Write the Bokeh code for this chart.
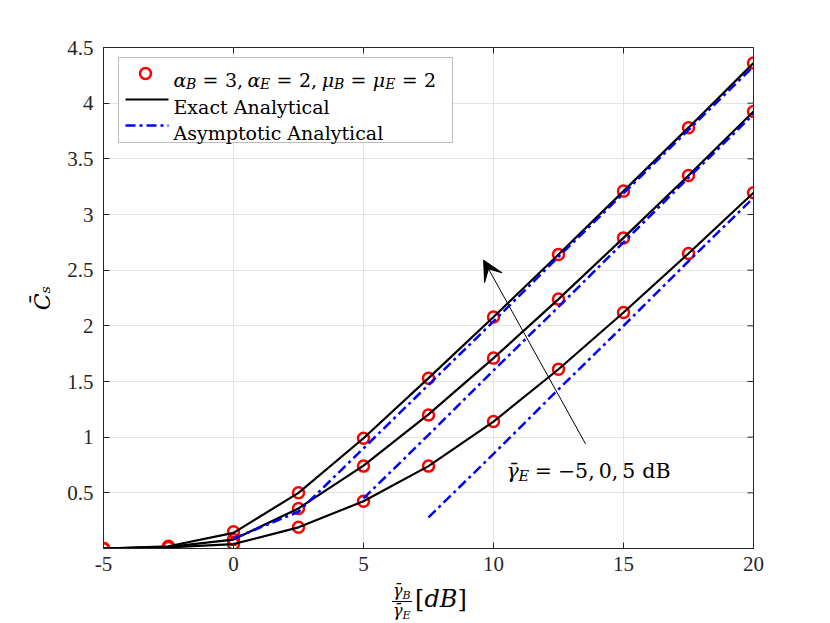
import math
from bokeh.plotting import figure
from bokeh.layouts import column
from bokeh.models import Label, BoxAnnotation, Arrow, VeeHead, FixedTicker, Range1d, Div
from bokeh.embed import file_html
from bokeh.resources import INLINE

# ---------------- data ----------------
snr_db = [-5, -2.5, 0, 2.5, 5, 7.5, 10, 12.5, 15, 17.5, 20]

exact_m5 = [0.0, 0.02, 0.14, 0.50, 0.99, 1.53, 2.08, 2.64, 3.21, 3.78, 4.36]
exact_0 = [0.0, 0.015, 0.08, 0.36, 0.745, 1.205, 1.71, 2.24, 2.79, 3.35, 3.925]
exact_5 = [0.0, 0.01, 0.04, 0.19, 0.425, 0.74, 1.14, 1.61, 2.12, 2.65, 3.195]

sim_m5 = [0.0, 0.02, 0.15, 0.50, 0.99, 1.53, 2.08, 2.64, 3.21, 3.78, 4.36]
sim_0 = [0.0, 0.015, 0.08, 0.36, 0.74, 1.20, 1.71, 2.24, 2.79, 3.35, 3.925]
sim_5 = [0.0, 0.01, 0.04, 0.19, 0.425, 0.74, 1.14, 1.61, 2.12, 2.65, 3.195]

asym_x_m5 = [0, 2.5, 5, 7.5, 10, 12.5, 15, 17.5, 20]
asym_m5 = [0.09, 0.33, 0.90, 1.47, 2.04, 2.62, 3.19, 3.76, 4.33]
asym_x_0 = [5, 7.5, 10, 12.5, 15, 17.5, 20]
asym_0 = [0.45, 1.02, 1.60, 2.17, 2.75, 3.33, 3.90]
asym_x_5 = [7.5, 10, 12.5, 15, 17.5, 20]
asym_5 = [0.28, 0.85, 1.43, 2.00, 2.58, 3.15]

x_ticks = [-5, 0, 5, 10, 15, 20]
x_tick_labels = ["-5", "0", "5", "10", "15", "20"]
y_ticks = [0.5, 1, 1.5, 2, 2.5, 3, 3.5, 4, 4.5]
y_tick_labels = ["0.5", "1", "1.5", "2", "2.5", "3", "3.5", "4", "4.5"]

# ---------------- layout helpers ----------------
X0, X1 = -5, 20
Y0, Y1 = 0, 4.5
W = 822
FL, FR, FT, FB = 103, 753, 47, 548   # frame in page pixels
PH = 582                              # main figure height
TOTAL_H = 622


def d(px, py):
    return (X0 + (px - FL) * (X1 - X0) / (FR - FL),
            Y0 + (FB - py) * (Y1 - Y0) / (FB - FT))


MFONT = "DejaVu Serif"
TFONT = "Liberation Serif"
WID = {'α': 0.66, 'μ': 0.65, 'γ': 0.58, 'B': 0.71, 'E': 0.715, 'C': 0.734,
       's': 0.513, 'd': 0.64, '=': 0.838, '−': 0.838, ',': 0.318, '.': 0.318,
       '[': 0.39, ']': 0.39, '\u0304': 0.0}
for ch in "0123456789":
    WID[ch] = 0.636


def tw(s, size):
    return sum(WID.get(c, 0.6) for c in s) * size


p = figure(width=W, height=PH, x_range=Range1d(X0, X1), y_range=Range1d(Y0, Y1),
           output_backend="svg", toolbar_location=None,
           min_border_left=FL, min_border_right=W - FR,
           min_border_top=FT, min_border_bottom=PH - FB)
p.background_fill_color = "white"
p.border_fill_color = "white"
p.outline_line_color = "#262626"
p.outline_line_width = 1


def style_axis(ax, ticks, labels):
    ax.ticker = FixedTicker(ticks=ticks)
    ax.major_label_overrides = {t: l for t, l in zip(ticks, labels)}
    ax.major_tick_in = 6
    ax.major_tick_out = 0
    ax.minor_tick_in = 0
    ax.minor_tick_out = 0
    ax.axis_line_color = "#262626"
    ax.major_tick_line_color = "#262626"
    ax.major_label_text_font = TFONT
    ax.major_label_text_color = "#262626"
    ax.major_label_text_font_size = "21px"


style_axis(p.xaxis[0], x_ticks, x_tick_labels)
p.xaxis[0].major_label_standoff = 8
style_axis(p.yaxis[0], y_ticks, y_tick_labels)
p.yaxis[0].major_label_standoff = 10
p.yaxis[0].axis_label = "C\u0304\u209B"
p.yaxis[0].axis_label_text_font = MFONT
p.yaxis[0].axis_label_text_font_style = "italic"
p.yaxis[0].axis_label_text_font_size = "22px"
p.yaxis[0].axis_label_text_color = "black"
p.yaxis[0].axis_label_standoff = 9

p.xgrid.ticker = FixedTicker(ticks=x_ticks)
p.ygrid.ticker = FixedTicker(ticks=y_ticks)
p.xgrid.grid_line_color = "#e3e3e3"
p.ygrid.grid_line_color = "#e3e3e3"

# box-style ticks on the top and right edges (from the tick arrays)
tick_len_x = 6 * (X1 - X0) / (FR - FL)
tick_len_y = 6 * (Y1 - Y0) / (FB - FT)
p.segment(x0=x_ticks, y0=[Y1] * len(x_ticks), x1=x_ticks, y1=[Y1 - tick_len_y] * len(x_ticks),
          line_color="#262626", line_width=1)
p.segment(x0=[X1] * len(y_ticks), y0=y_ticks, x1=[X1 - tick_len_x] * len(y_ticks), y1=y_ticks,
          line_color="#262626", line_width=1)

# ---------------- data marks ----------------
RED = "#ff0000"
BLUE = "#0000ff"
DASH = "10 4 3 4"
for ys in (sim_m5, sim_0, sim_5):
    p.scatter(snr_db, ys, marker="circle", size=11, fill_color=None,
              line_color=RED, line_width=2.5)
for ys in (exact_m5, exact_0, exact_5):
    p.line(snr_db, ys, line_color="black", line_width=2.2)
for xs, ys in ((asym_x_m5, asym_m5), (asym_x_0, asym_0), (asym_x_5, asym_5)):
    p.line(xs, ys, line_color=BLUE, line_width=2.5, line_dash=DASH)


# ---------------- text helpers ----------------
def put_main(px, py, text, size, italic=False, font=MFONT, level="overlay"):
    x, y = d(px, py)
    p.add_layout(Label(x=x, y=y, text=text, text_font=font,
                       text_font_size=f"{size}px",
                       text_font_style="italic" if italic else "normal",
                       text_baseline="alphabetic", text_align="left",
                       text_color="black", level=level))


def rich(px, py, tokens, level="overlay"):
    cx = px
    for tok in tokens:
        if tok[0] == "g":
            cx += tok[1]
        else:
            _, text, size, italic, drop = tok
            put_main(cx, py + drop, text, size, italic, level=level)
            cx += tw(text, size)


# ---------------- legend ----------------
lx0, ly0 = d(118, 57)
lx1, ly1 = d(452, 142)
p.add_layout(BoxAnnotation(left=lx0, right=lx1, top=ly0, bottom=ly1,
                           fill_color="white", fill_alpha=1.0,
                           line_color="#262626", line_width=1, level="annotation"))
mx, my = d(145, 73)
p.scatter([mx], [my], marker="circle", size=11, fill_color=None,
          line_color=RED, line_width=2.5, level="overlay")
sx0, sy2 = d(125, 99)
sx1, sy3 = d(168, 125)
p.line([sx0, sx1], [sy2, sy2], line_color="black", line_width=2.2, level="overlay")
p.line([sx0, sx1], [sy3, sy3], line_color=BLUE, line_width=2.5, line_dash=DASH,
       level="overlay")

M, S, DR = 19, 14, 4.5
G = 6.5
rich(173, 79, [
    ("t", "α", M, True, 0), ("t", "B", S, True, DR), ("g", G), ("t", "=", M, False, 0), ("g", G),
    ("t", "3,", M, False, 0), ("g", 4.5),
    ("t", "α", M, True, 0), ("t", "E", S, True, DR), ("g", G), ("t", "=", M, False, 0), ("g", G),
    ("t", "2,", M, False, 0), ("g", 4.5),
    ("t", "μ", M, True, 0), ("t", "B", S, True, DR), ("g", G), ("t", "=", M, False, 0), ("g", G),
    ("t", "μ", M, True, 0), ("t", "E", S, True, DR), ("g", G), ("t", "=", M, False, 0), ("g", G),
    ("t", "2", M, False, 0),
])
put_main(173, 106, "Exact Analytical", M)
put_main(173, 132, "Asymptotic Analytical", M)

# ---------------- annotation ----------------
ax_s, ay_s = 13.54, 0.94
ax_e, ay_e = 9.62, 2.59
p.add_layout(Arrow(x_start=ax_s, y_start=ay_s, x_end=ax_e, y_end=ay_e,
                   line_color="black", line_width=1,
                   end=VeeHead(size=20, fill_color="black", line_color="black")))
A, AS = 20.5, 14.5
rich(506, 470, [
    ("t", "γ\u0304", A, True, 0), ("t", "E", AS, True, 5), ("g", 6),
    ("t", "=", A, False, 0), ("g", 6),
    ("t", "−5,", A, False, 0), ("g", 4), ("t", "0,", A, False, 0), ("g", 4),
    ("t", "5", A, False, 0), ("g", 7), ("t", "dB", A, False, 0),
], level="annotation")

# ---------------- x label (HTML strip below the plot) ----------------
XH = TOTAL_H - PH
sub = "font-size:11px;position:relative;top:3px;"
xlabel_html = (
    f'<div style="position:relative;width:{W}px;height:{XH}px;'
    f'font-family:\'{MFONT}\';color:black;">'
    '<div style="position:absolute;left:392px;top:1px;text-align:center;'
    'font-style:italic;font-size:16px;line-height:15px;">'
    f'<div style="border-bottom:1.3px solid black;padding:0 1px 1px 1px;">γ\u0304<span style="{sub}">B</span></div>'
    f'<div style="padding:1px 1px 0 1px;">γ\u0304<span style="{sub}">E</span></div>'
    '</div>'
    '<div style="position:absolute;left:415px;top:5px;font-size:24px;line-height:24px;white-space:nowrap;">'
    '[<span style="font-style:italic;">dB</span>]</div>'
    '</div>'
)
xlabel = Div(text=xlabel_html, width=W, height=XH, margin=(0, 0, 0, 0))

layout = column(p, xlabel, spacing=0)
open("out.html", "w").write(file_html(layout, INLINE))
